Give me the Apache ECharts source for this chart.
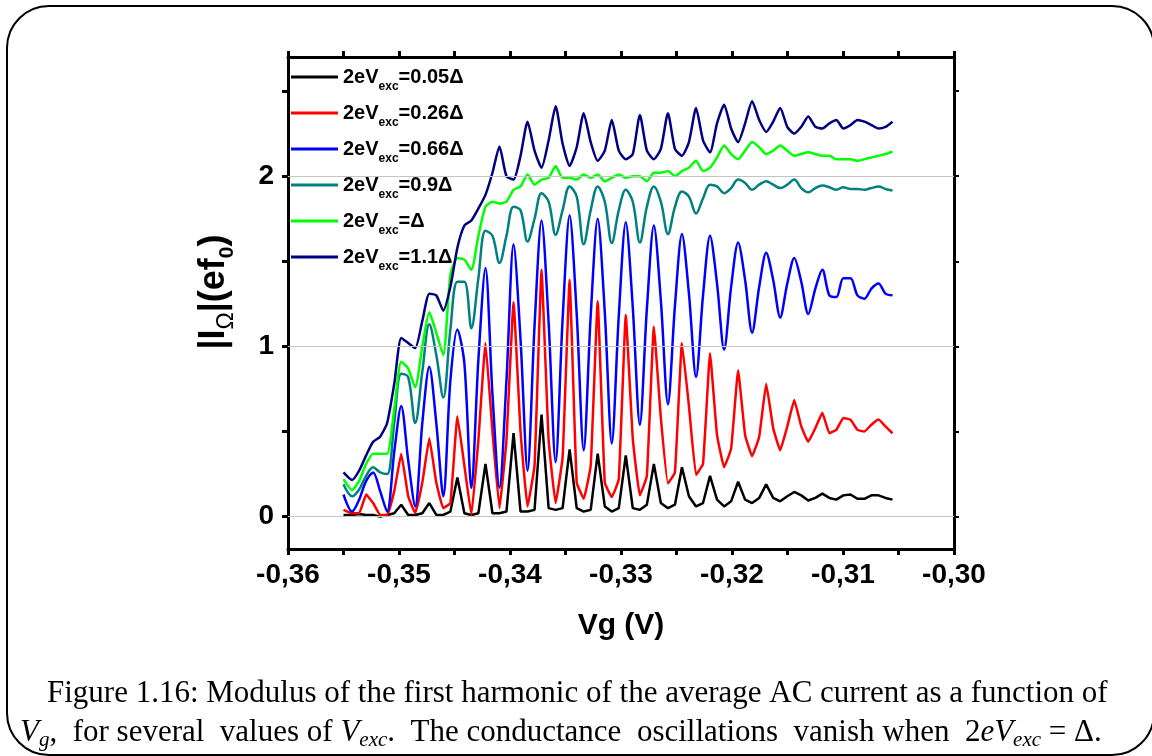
<!DOCTYPE html>
<html>
<head>
<meta charset="utf-8">
<script src="https://cdn.jsdelivr.net/npm/echarts@6/dist/echarts.min.js"></script>
<style>
html,body{margin:0;padding:0;background:#fff;}
#chart{width:1152px;height:756px;}
</style>
</head>
<body>
<div id="chart"></div>
<script>
// Gate voltage Vg (V), shared sampling points of all curves
const vg = [
  -0.35500, -0.35423, -0.35359, -0.35296, -0.35233, -0.35170, -0.35107, -0.35043, -0.34980, -0.34917,
  -0.34854, -0.34790, -0.34727, -0.34664, -0.34601, -0.34537, -0.34474, -0.34411, -0.34348, -0.34285,
  -0.34221, -0.34158, -0.34095, -0.34032, -0.33968, -0.33905, -0.33842, -0.33779, -0.33716, -0.33652,
  -0.33589, -0.33526, -0.33463, -0.33399, -0.33336, -0.33273, -0.33210, -0.33146, -0.33083, -0.33020,
  -0.32957, -0.32894, -0.32830, -0.32767, -0.32704, -0.32641, -0.32577, -0.32514, -0.32451, -0.32388,
  -0.32324, -0.32261, -0.32198, -0.32135, -0.32071, -0.32008, -0.31945, -0.31882, -0.31819, -0.31755,
  -0.31692, -0.31629, -0.31566, -0.31502, -0.31439, -0.31376, -0.31313, -0.31249, -0.31186, -0.31123,
  -0.31060, -0.30997, -0.30933, -0.30870, -0.30807, -0.30744, -0.30680, -0.30617, -0.30554
];

// |I_Omega| (e f0) for each excitation
const i005 = [
  0.01, 0.01, 0.015, 0.01, 0.01, 0.0, 0.01, 0.02, 0.07, 0.01,
  0.01, 0.02, 0.08, 0.01, 0.01, 0.03, 0.23, 0.02, 0.01, 0.02,
  0.31, 0.02, 0.02, 0.03, 0.49, 0.03, 0.03, 0.04, 0.60, 0.05,
  0.04, 0.05, 0.395, 0.05, 0.03, 0.04, 0.37, 0.06, 0.03, 0.05,
  0.36, 0.05, 0.04, 0.07, 0.31, 0.08, 0.05, 0.07, 0.29, 0.12,
  0.06, 0.08, 0.24, 0.10, 0.06, 0.09, 0.205, 0.10, 0.08, 0.11,
  0.19, 0.11, 0.09, 0.12, 0.145, 0.125, 0.095, 0.11, 0.135, 0.11,
  0.10, 0.125, 0.13, 0.105, 0.105, 0.125, 0.125, 0.11, 0.10
];
const i026 = [
  0.04, 0.02, 0.02, 0.13, 0.08, 0.01, 0.01, 0.15, 0.37, 0.12,
  0.02, 0.20, 0.46, 0.20, 0.05, 0.08, 0.59, 0.30, 0.01, 0.45,
  1.02, 0.50, 0.05, 0.45, 1.26, 0.50, 0.06, 0.30, 1.45, 0.45,
  0.08, 0.35, 1.39, 0.20, 0.105, 0.30, 1.265, 0.20, 0.115, 0.22,
  1.185, 0.46, 0.125, 0.24, 1.115, 0.58, 0.195, 0.26, 1.02, 0.65,
  0.245, 0.31, 0.96, 0.48, 0.29, 0.40, 0.86, 0.48, 0.355, 0.47,
  0.78, 0.52, 0.39, 0.53, 0.685, 0.53, 0.44, 0.52, 0.61, 0.49,
  0.51, 0.58, 0.57, 0.51, 0.50, 0.54, 0.57, 0.53, 0.49
];
const i066 = [
  0.13, 0.03, 0.10, 0.21, 0.26, 0.15, 0.03, 0.38, 0.65, 0.33,
  0.06, 0.55, 0.88, 0.55, 0.12, 0.80, 1.10, 0.90, 0.17, 0.92,
  1.46, 0.72, 0.17, 0.80, 1.60, 1.04, 0.27, 1.12, 1.74, 1.14,
  0.32, 1.16, 1.77, 1.19, 0.39, 1.18, 1.75, 1.20, 0.43, 1.18,
  1.73, 1.23, 0.54, 1.22, 1.71, 1.27, 0.66, 1.24, 1.66, 1.31,
  0.82, 1.30, 1.65, 1.37, 0.98, 1.35, 1.61, 1.39, 1.08, 1.35,
  1.55, 1.39, 1.17, 1.37, 1.52, 1.38, 1.19, 1.34, 1.45, 1.30,
  1.29, 1.40, 1.40, 1.30, 1.28, 1.34, 1.37, 1.31, 1.30
];
const i09 = [
  0.19, 0.12, 0.16, 0.24, 0.29, 0.26, 0.25, 0.55, 0.84, 0.82,
  0.55, 0.85, 1.13, 0.95, 0.70, 1.10, 1.38, 1.38, 1.107, 1.40,
  1.68, 1.65, 1.49, 1.65, 1.82, 1.80, 1.616, 1.75, 1.90, 1.85,
  1.656, 1.80, 1.94, 1.88, 1.60, 1.80, 1.94, 1.85, 1.607, 1.80,
  1.92, 1.85, 1.61, 1.82, 1.94, 1.85, 1.66, 1.82, 1.91, 1.88,
  1.78, 1.87, 1.95, 1.94, 1.90, 1.93, 1.98, 1.96, 1.92, 1.95,
  1.97, 1.95, 1.93, 1.95, 1.98, 1.93, 1.905, 1.93, 1.945, 1.935,
  1.92, 1.935, 1.925, 1.925, 1.92, 1.93, 1.94, 1.925, 1.916
];
const i10 = [
  0.22, 0.156, 0.21, 0.31, 0.37, 0.37, 0.37, 0.63, 0.91, 0.87,
  0.76, 1.0, 1.20, 1.08, 0.95, 1.42, 1.52, 1.51, 1.45, 1.65,
  1.82, 1.85, 1.84, 1.85, 1.92, 1.94, 2.01, 1.95, 1.98, 1.99,
  2.06, 1.99, 1.99, 1.98, 2.01, 1.99, 2.01, 1.97, 1.99, 2.01,
  1.99, 2.00, 2.00, 1.97, 2.02, 2.02, 2.03, 2.00, 2.03, 2.05,
  2.09, 2.03, 2.05, 2.11, 2.18, 2.13, 2.10, 2.15, 2.20, 2.17,
  2.13, 2.15, 2.18, 2.15, 2.12, 2.13, 2.14, 2.13, 2.12, 2.12,
  2.10, 2.10, 2.10, 2.09, 2.10, 2.11, 2.12, 2.13, 2.145
];
const i11 = [
  0.26, 0.215, 0.27, 0.36, 0.44, 0.47, 0.55, 0.78, 1.05, 1.02,
  0.99, 1.15, 1.31, 1.30, 1.21, 1.35, 1.58, 1.71, 1.74, 1.81,
  1.89, 2.02, 2.175, 2.00, 1.98, 2.12, 2.32, 2.15, 2.05, 2.21,
  2.41, 2.19, 2.06, 2.17, 2.37, 2.20, 2.09, 2.15, 2.33, 2.15,
  2.10, 2.13, 2.36, 2.15, 2.10, 2.16, 2.37, 2.16, 2.12, 2.20,
  2.40, 2.21, 2.14, 2.31, 2.42, 2.28, 2.20, 2.31, 2.44, 2.33,
  2.26, 2.32, 2.40, 2.29, 2.25, 2.29, 2.35, 2.29, 2.28, 2.31,
  2.33, 2.28, 2.30, 2.33, 2.32, 2.30, 2.28, 2.29, 2.32
];

const seriesNames = ['0.05Δ', '0.26Δ', '0.66Δ', '0.9Δ', 'Δ', '1.1Δ'];
const seriesColors = ['#000000', '#ff0000', '#0000ff', '#008080', '#00ff00', '#000080'];
const seriesSmooth = [0, 0.1, 0.3, 0.35, 0.2, 0.2];
const seriesValues = [i005, i026, i066, i09, i10, i11];

const yTicks = [0, 0.5, 1, 1.5, 2, 2.5];
const yLabels = [0, 1, 2];
const gridValues = [0, 1, 2];

const captionLine1 = 'Figure 1.16: Modulus of the first harmonic of the average AC current as a function of';
const captionLine2 = '{i|V}{s|g},  for several  values of {i|V}{s|exc}.  The conductance  oscillations  vanish when  2{i|eV}{s|exc} = Δ.';

const chart = echarts.init(document.getElementById('chart'), null, {renderer: 'canvas'});

const FONT = 'Liberation Sans';
const axisLineStyle = {color: '#000', width: 3};

const xFmt = function (v) {
  const r = Math.round(v * 1000);
  if (r % 10 !== 0) return '';
  return (r / 1000).toFixed(2).replace('.', ',');
};

const series = [{
  type: 'line',
  name: '_grid',
  data: [],
  silent: true,
  markLine: {
    silent: true,
    symbol: 'none',
    animation: false,
    label: {show: false},
    lineStyle: {color: '#c4c4c4', width: 1, type: 'solid'},
    data: gridValues.map(v => ({yAxis: v}))
  }
}];
seriesNames.forEach((n, k) => {
  series.push({
    type: 'line',
    name: n,
    data: vg.map((x, i) => [x, seriesValues[k][i]]),
    symbol: 'none',
    showSymbol: false,
    smooth: seriesSmooth[k],
    lineStyle: {color: seriesColors[k], width: 2.5},
    itemStyle: {color: seriesColors[k]}
  });
});

chart.setOption({
  animation: false,
  backgroundColor: '#fff',
  grid: {left: 288, right: 198, top: 57, bottom: 207, containLabel: false},
  legend: {
    data: seriesNames,
    orient: 'vertical',
    left: 291,
    top: 61,
    padding: 0,
    itemGap: 4,
    itemWidth: 47,
    itemHeight: 3,
    icon: 'rect',
    formatter: name => '2eV{s|exc}=' + name,
    textStyle: {
      fontFamily: FONT, fontSize: 20, fontWeight: 'bold', color: '#000', lineHeight: 20,
      rich: {
        s: {fontFamily: FONT, fontSize: 12, fontWeight: 'bold', color: '#000', lineHeight: 12, padding: [20, 0, 0, 0]}
      }
    }
  },
  xAxis: [{
    type: 'value', position: 'bottom',
    min: -0.36, max: -0.30, interval: 0.005,
    axisLine: {show: true, onZero: false, lineStyle: axisLineStyle},
    axisTick: {show: true, inside: false, length: 6, lineStyle: {color: '#000', width: 3}},
    axisLabel: {formatter: xFmt, fontFamily: FONT, fontSize: 28, fontWeight: 'bold', color: '#000', margin: 12},
    splitLine: {show: false},
    name: 'Vg (V)', nameLocation: 'middle', nameGap: 62,
    nameTextStyle: {fontFamily: FONT, fontSize: 30, fontWeight: 'bold', color: '#000'}
  }, {
    type: 'value', position: 'top',
    min: -0.36, max: -0.30, interval: 0.005,
    axisLine: {show: true, onZero: false, lineStyle: axisLineStyle},
    axisTick: {show: true, inside: false, length: 6, lineStyle: {color: '#000', width: 3}},
    axisLabel: {show: false},
    splitLine: {show: false}
  }],
  yAxis: [{
    type: 'value', position: 'left',
    min: -0.19, max: 2.7,
    axisLine: {show: true, onZero: false, lineStyle: axisLineStyle},
    axisTick: {show: true, inside: false, length: 6, customValues: yTicks, lineStyle: {color: '#000', width: 3}},
    axisLabel: {customValues: yLabels, fontFamily: FONT, fontSize: 28, fontWeight: 'bold', color: '#000', margin: 14},
    splitLine: {show: false},
    name: '|I{o|Ω}|(ef{z|0})', nameLocation: 'middle', nameGap: 56,
    nameTextStyle: {
      fontFamily: FONT, fontSize: 36, fontWeight: 'bold', color: '#000', lineHeight: 36,
      padding: [0, 0, 0, 22],
      rich: {
        o: {fontFamily: FONT, fontSize: 23, fontWeight: 'normal', color: '#000', lineHeight: 23, padding: [25, 0, 0, 0]},
        z: {fontFamily: FONT, fontSize: 21, fontWeight: 'bold', color: '#000', lineHeight: 21, padding: [27, 0, 0, 0]}
      }
    }
  }, {
    type: 'value', position: 'right',
    min: -0.19, max: 2.7,
    axisLine: {show: true, onZero: false, lineStyle: axisLineStyle},
    axisTick: {show: true, inside: false, length: 5, customValues: yTicks, lineStyle: {color: '#000', width: 2}},
    axisLabel: {show: false},
    splitLine: {show: false}
  }],
  series: series,
  graphic: [{
    type: 'rect',
    shape: {x: 7, y: 6, width: 1147, height: 749, r: 42},
    style: {fill: 'none', stroke: '#000', lineWidth: 2},
    silent: true
  }, {
    type: 'text',
    left: 47, top: 678,
    style: {text: captionLine1, font: '31px "Liberation Serif"', fill: '#000'}
  }, {
    type: 'text',
    left: 20, top: 715,
    style: {
      text: captionLine2, font: '31px "Liberation Serif"', fill: '#000',
      rich: {
        i: {fontFamily: 'Liberation Serif', fontStyle: 'italic', fontSize: 31, lineHeight: 31},
        s: {fontFamily: 'Liberation Serif', fontStyle: 'italic', fontSize: 21, lineHeight: 21, padding: [15, 0, 0, 0]}
      }
    }
  }]
});
</script>
</body>
</html>
